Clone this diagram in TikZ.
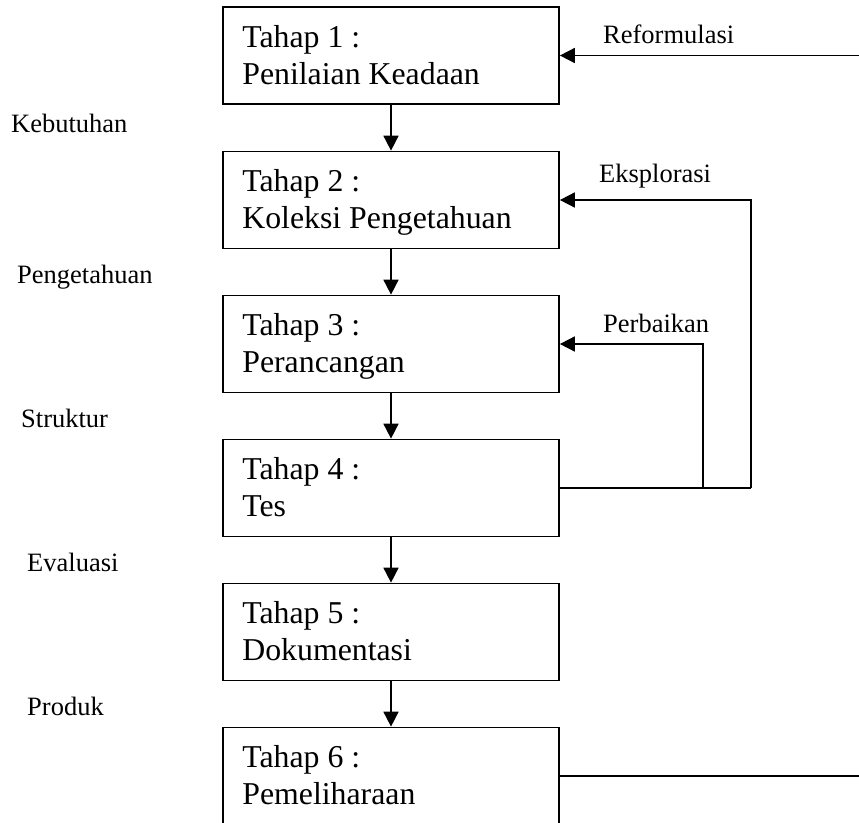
\documentclass[tikz,border=0pt]{standalone}
\usepackage{fontspec}
\setmainfont{Liberation Serif}
\usetikzlibrary{arrows.meta}
\tikzset{
  stagebox/.style={draw, line width=1.7pt, minimum width=336pt, minimum height=97pt, inner sep=0pt},
  boxtext/.style={anchor=base west, inner sep=0pt, font=\fontsize{31.8}{37}\selectfont},
  sidetext/.style={anchor=base west, inner sep=0pt, font=\fontsize{26.5}{31}\selectfont},
  conn/.style={line width=1.7pt},
  flow/.style={conn, -{Triangle[length=15pt, width=15pt]}}
}
\begin{document}
\begin{tikzpicture}[x=1pt, y=-1pt]
\useasboundingbox (0,0) rectangle (859,822);
\clip (0,0) rectangle (859,822);

% stage boxes
\node[stagebox] (b1) at (391,55.5) {};
\node[stagebox] (b2) at (391,200) {};
\node[stagebox] (b3) at (391,344) {};
\node[stagebox] (b4) at (391,488) {};
\node[stagebox] (b5) at (391,632) {};
\node[stagebox] (b6) at (391,776) {};

% box texts
\node[boxtext] (t1a) at ([xshift=20pt, yshift=-41pt]b1.north west) {Tahap 1 :};
\node[boxtext] (t1b) at ([xshift=20pt, yshift=-78pt]b1.north west) {Penilaian Keadaan};
\node[boxtext] (t2a) at ([xshift=20pt, yshift=-41pt]b2.north west) {Tahap 2 :};
\node[boxtext] (t2b) at ([xshift=20pt, yshift=-78pt]b2.north west) {Koleksi Pengetahuan};
\node[boxtext] (t3a) at ([xshift=20pt, yshift=-41pt]b3.north west) {Tahap 3 :};
\node[boxtext] (t3b) at ([xshift=20pt, yshift=-78pt]b3.north west) {Perancangan};
\node[boxtext] (t4a) at ([xshift=20pt, yshift=-41pt]b4.north west) {Tahap 4 :};
\node[boxtext] (t4b) at ([xshift=20pt, yshift=-78pt]b4.north west) {Tes};
\node[boxtext] (t5a) at ([xshift=20pt, yshift=-41pt]b5.north west) {Tahap 5 :};
\node[boxtext] (t5b) at ([xshift=20pt, yshift=-78pt]b5.north west) {Dokumentasi};
\node[boxtext] (t6a) at ([xshift=20pt, yshift=-41pt]b6.north west) {Tahap 6 :};
\node[boxtext] (t6b) at ([xshift=20pt, yshift=-78pt]b6.north west) {Pemeliharaan};

% left-hand labels
\node[sidetext] (lk) at (11,132) {Kebutuhan};
\node[sidetext] (lp) at (17,283) {Pengetahuan};
\node[sidetext] (ls) at (21,427) {Struktur};
\node[sidetext] (le) at (27,571) {Evaluasi};
\node[sidetext] (lpr) at (27,715) {Produk};

% right-hand labels
\node[sidetext] (rr) at (603,43) {Reformulasi};
\node[sidetext] (re) at (599,182) {Eksplorasi};
\node[sidetext] (rp) at (603,332) {Perbaikan};

% main flow
\draw[flow] (b1.south) -- (b2.north);
\draw[flow] (b2.south) -- (b3.north);
\draw[flow] (b3.south) -- (b4.north);
\draw[flow] (b4.south) -- (b5.north);
\draw[flow] (b5.south) -- (b6.north);

% feedback loops
\coordinate (rin) at (859,55.5);
\coordinate (pk) at (703,488);
\coordinate (ek) at (751,488);
\coordinate (mout) at (859,776);
\draw[flow] (rin) -- (b1.east);
\draw[conn] (b4.east) -- (ek);
\draw[flow] (ek) |- (b2.east);
\draw[flow] (pk) |- (b3.east);
\draw[conn] (b6.east) -- (mout);
\end{tikzpicture}
\end{document}
